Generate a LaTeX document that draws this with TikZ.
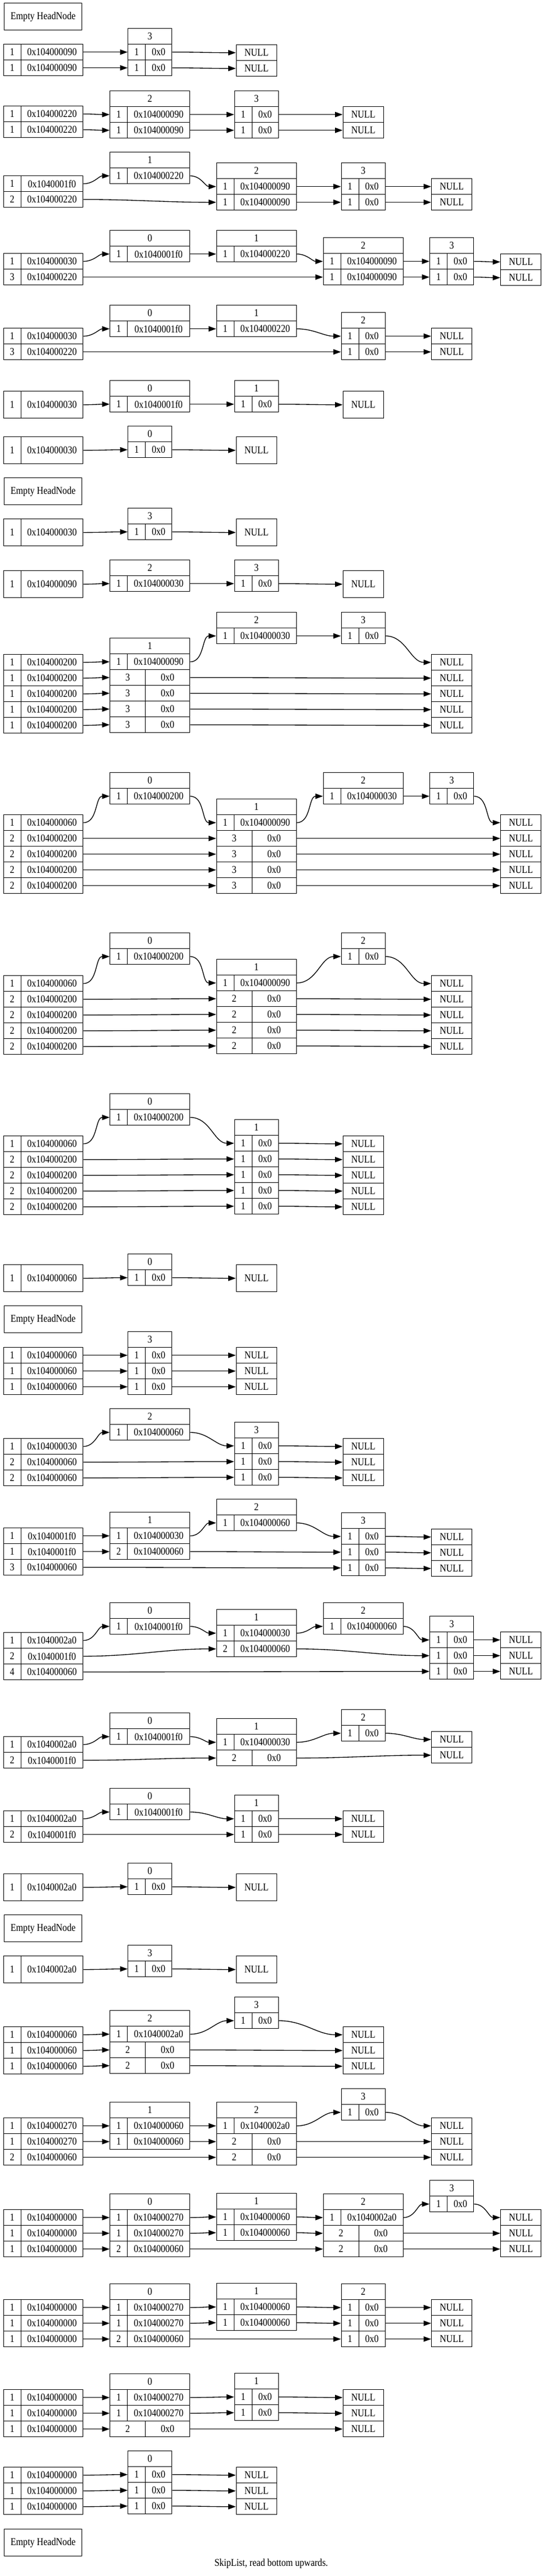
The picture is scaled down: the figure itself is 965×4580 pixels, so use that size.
\documentclass[tikz,border=0pt]{standalone}
\usepackage{fontspec}
\setmainfont{Liberation Serif}[FakeStretch=0.86]
\usepackage{tikz}
\usetikzlibrary{arrows.meta}
\tikzset{
  cell/.style={draw=black, line width=1pt, inner sep=0pt, anchor=north west, font=\fontsize{14}{16}\selectfont},
  link/.style={-{Triangle[length=10pt, width=7pt]}, line width=1pt, color=black},
  caption/.style={font=\fontsize{14}{16}\selectfont},
}
\def\nilad{0x0}
% rows of a record: name, left x, top y, width, row height, lvl/addr list
\newcommand{\fields}[6]{%
  \foreach \lv/\ad [count=\k] in {#6} {
    \edef\adtxt{\ad}
    \def\lw{31}
    \ifx\adtxt\nilad \ifdim #4pt>100pt \def\lw{63}\fi \fi
    \pgfmathsetmacro{\ry}{#3+(\k-1)*#5}
    \node[cell, minimum width=\lw*0.75pt, minimum height=#5*0.75pt] (#1-\k) at (#2,\ry) {\lv};
    \node[cell, minimum width={(#4-\lw)*0.75pt}, minimum height=#5*0.75pt] (#1-\k-a) at (#2+\lw,\ry) {\ad};
  }}
\newcommand{\head}[3]{\fields{#1}{5.5}{#2}{141.5}{28}{#3}}
\newcommand{\headone}[3]{\fields{#1}{5.5}{#2}{141.5}{48}{#3}}
% key nodes: name, rank, top, key, rows
\newcommand{\wide}[5]{%
  \pgfmathsetmacro{\lx}{{76,266,455.5,645.5,803,926}[#2]-71}
  \node[cell, minimum width=106.5pt, minimum height=21pt] (#1) at (\lx,#3) {#4};
  \fields{#1}{\lx}{#3+28}{142}{28}{#5}}
\newcommand{\narrow}[5]{%
  \pgfmathsetmacro{\lx}{{76,266,455.5,645.5,803,926}[#2]-39}
  \node[cell, minimum width=58.5pt, minimum height=21pt] (#1) at (\lx,#3) {#4};
  \fields{#1}{\lx}{#3+28}{78}{28}{#5}}
% NULL column: name, rank, top, count
\newcommand{\nulls}[4]{%
  \pgfmathsetmacro{\lx}{{76,266,455.5,645.5,803,926}[#2]-36}
  \foreach \k in {1,...,#4} {
    \node[cell, minimum width=54pt, minimum height=21pt] (#1-\k) at (\lx,{#3+(\k-1)*28}) {NULL};
  }}
\newcommand{\nullone}[3]{%
  \pgfmathsetmacro{\lx}{{76,266,455.5,645.5,803,926}[#2]-36}
  \node[cell, minimum width=54pt, minimum height=36pt] (#1-1) at (\lx,#3) {NULL};}
\newcommand{\link}[2]{\draw[link] (#1-a.east) to[out=0, in=180] (#2.west);}

\begin{document}
\begin{tikzpicture}[x=0.75pt, y=-0.75pt]
  \fill[white] (0,0) rectangle (965,4580);
  \useasboundingbox (0,0) rectangle (965,4580);

  % 1
  \node[cell, minimum width=103.5pt, minimum height=36pt] (s1) at (7,5) {Empty HeadNode};

  % 2
  \head{s2h}{78}{1/0x104000090, 1/0x104000090}
  \narrow{s2k3}{1}{50}{3}{1/0x0, 1/0x0}
  \nulls{s2z}{2}{79}{2}
  \foreach \i in {1,2} {\link{s2h-\i}{s2k3-\i} \link{s2k3-\i}{s2z-\i}}

  % 3
  \head{s3h}{188}{1/0x104000220, 1/0x104000220}
  \wide{s3k2}{1}{161}{2}{1/0x104000090, 1/0x104000090}
  \narrow{s3k3}{2}{161}{3}{1/0x0, 1/0x0}
  \nulls{s3z}{3}{189}{2}
  \foreach \i in {1,2} {\link{s3h-\i}{s3k2-\i} \link{s3k2-\i}{s3k3-\i} \link{s3k3-\i}{s3z-\i}}

  % 4
  \head{s4h}{312}{1/0x1040001f0, 2/0x104000220}
  \wide{s4k1}{1}{270}{1}{1/0x104000220}
  \wide{s4k2}{2}{289}{2}{1/0x104000090, 1/0x104000090}
  \narrow{s4k3}{3}{289}{3}{1/0x0, 1/0x0}
  \nulls{s4z}{4}{317}{2}
  \link{s4h-1}{s4k1-1} \link{s4k1-1}{s4k2-1} \link{s4h-2}{s4k2-2}
  \foreach \i in {1,2} {\link{s4k2-\i}{s4k3-\i} \link{s4k3-\i}{s4z-\i}}

  % 5
  \head{s5h}{450}{1/0x104000030, 3/0x104000220}
  \wide{s5k0}{1}{409}{0}{1/0x1040001f0}
  \wide{s5k1}{2}{409}{1}{1/0x104000220}
  \wide{s5k2}{3}{422}{2}{1/0x104000090, 1/0x104000090}
  \narrow{s5k3}{4}{422}{3}{1/0x0, 1/0x0}
  \nulls{s5z}{5}{451}{2}
  \link{s5h-1}{s5k0-1} \link{s5k0-1}{s5k1-1} \link{s5k1-1}{s5k2-1} \link{s5h-2}{s5k2-2}
  \foreach \i in {1,2} {\link{s5k2-\i}{s5k3-\i} \link{s5k3-\i}{s5z-\i}}

  % 6
  \head{s6h}{583}{1/0x104000030, 3/0x104000220}
  \wide{s6k0}{1}{542}{0}{1/0x1040001f0}
  \wide{s6k1}{2}{542}{1}{1/0x104000220}
  \narrow{s6k2}{3}{555}{2}{1/0x0, 1/0x0}
  \nulls{s6z}{4}{583}{2}
  \link{s6h-1}{s6k0-1} \link{s6k0-1}{s6k1-1} \link{s6k1-1}{s6k2-1} \link{s6h-2}{s6k2-2}
  \foreach \i in {1,2} {\link{s6k2-\i}{s6z-\i}}

  % 7
  \headone{s7h}{695}{1/0x104000030}
  \wide{s7k0}{1}{676}{0}{1/0x1040001f0}
  \narrow{s7k1}{2}{676}{1}{1/0x0}
  \nullone{s7z}{3}{695}
  \link{s7h-1}{s7k0-1} \link{s7k0-1}{s7k1-1} \link{s7k1-1}{s7z-1}

  % 8
  \headone{s8h}{776}{1/0x104000030}
  \narrow{s8k0}{1}{757}{0}{1/0x0}
  \nullone{s8z}{2}{776}
  \link{s8h-1}{s8k0-1} \link{s8k0-1}{s8z-1}

  % 9
  \node[cell, minimum width=103.5pt, minimum height=36pt] (s9) at (7,849) {Empty HeadNode};

  % 10
  \headone{s10h}{922}{1/0x104000030}
  \narrow{s10k3}{1}{903}{3}{1/0x0}
  \nullone{s10z}{2}{922}
  \link{s10h-1}{s10k3-1} \link{s10k3-1}{s10z-1}

  % 11
  \headone{s11h}{1014}{1/0x104000090}
  \wide{s11k2}{1}{995}{2}{1/0x104000030}
  \narrow{s11k3}{2}{995}{3}{1/0x0}
  \nullone{s11z}{3}{1014}
  \link{s11h-1}{s11k2-1} \link{s11k2-1}{s11k3-1} \link{s11k3-1}{s11z-1}

  % 12
  \head{s12h}{1163}{1/0x104000200, 1/0x104000200, 1/0x104000200, 1/0x104000200, 1/0x104000200}
  \wide{s12k1}{1}{1134}{1}{1/0x104000090, 3/0x0, 3/0x0, 3/0x0, 3/0x0}
  \wide{s12k2}{2}{1088}{2}{1/0x104000030}
  \narrow{s12k3}{3}{1088}{3}{1/0x0}
  \nulls{s12z}{4}{1163}{5}
  \foreach \i in {1,...,5} {\link{s12h-\i}{s12k1-\i}}
  \link{s12k1-1}{s12k2-1} \link{s12k2-1}{s12k3-1} \link{s12k3-1}{s12z-1}
  \foreach \i in {2,...,5} {\link{s12k1-\i}{s12z-\i}}

  % 13
  \head{s13h}{1448}{1/0x104000060, 2/0x104000200, 2/0x104000200, 2/0x104000200, 2/0x104000200}
  \wide{s13k0}{1}{1373}{0}{1/0x104000200}
  \wide{s13k1}{2}{1420}{1}{1/0x104000090, 3/0x0, 3/0x0, 3/0x0, 3/0x0}
  \wide{s13k2}{3}{1373}{2}{1/0x104000030}
  \narrow{s13k3}{4}{1373}{3}{1/0x0}
  \nulls{s13z}{5}{1448}{5}
  \link{s13h-1}{s13k0-1} \link{s13k0-1}{s13k1-1}
  \link{s13k1-1}{s13k2-1} \link{s13k2-1}{s13k3-1} \link{s13k3-1}{s13z-1}
  \foreach \i in {2,...,5} {\link{s13h-\i}{s13k1-\i} \link{s13k1-\i}{s13z-\i}}

  % 14
  \head{s14h}{1734}{1/0x104000060, 2/0x104000200, 2/0x104000200, 2/0x104000200, 2/0x104000200}
  \wide{s14k0}{1}{1658}{0}{1/0x104000200}
  \wide{s14k1}{2}{1705}{1}{1/0x104000090, 2/0x0, 2/0x0, 2/0x0, 2/0x0}
  \narrow{s14k2}{3}{1658}{2}{1/0x0}
  \nulls{s14z}{4}{1734}{5}
  \link{s14h-1}{s14k0-1} \link{s14k0-1}{s14k1-1}
  \link{s14k1-1}{s14k2-1} \link{s14k2-1}{s14z-1}
  \foreach \i in {2,...,5} {\link{s14h-\i}{s14k1-\i} \link{s14k1-\i}{s14z-\i}}

  % 15
  \head{s15h}{2019}{1/0x104000060, 2/0x104000200, 2/0x104000200, 2/0x104000200, 2/0x104000200}
  \wide{s15k0}{1}{1944}{0}{1/0x104000200}
  \narrow{s15k1}{2}{1990}{1}{1/0x0, 1/0x0, 1/0x0, 1/0x0, 1/0x0}
  \nulls{s15z}{3}{2019}{5}
  \link{s15h-1}{s15k0-1} \link{s15k0-1}{s15k1-1}
  \foreach \i in {2,...,5} {\link{s15h-\i}{s15k1-\i}}
  \foreach \i in {1,...,5} {\link{s15k1-\i}{s15z-\i}}

  % 16
  \headone{s16h}{2248}{1/0x104000060}
  \narrow{s16k0}{1}{2229}{0}{1/0x0}
  \nullone{s16z}{2}{2248}
  \link{s16h-1}{s16k0-1} \link{s16k0-1}{s16z-1}

  % 17
  \node[cell, minimum width=103.5pt, minimum height=36pt] (s17) at (7,2321) {Empty HeadNode};

  % 18
  \head{s18h}{2395}{1/0x104000060, 1/0x104000060, 1/0x104000060}
  \narrow{s18k3}{1}{2367}{3}{1/0x0, 1/0x0, 1/0x0}
  \nulls{s18z}{2}{2395}{3}
  \foreach \i in {1,2,3} {\link{s18h-\i}{s18k3-\i} \link{s18k3-\i}{s18z-\i}}

  % 19
  \head{s19h}{2557}{1/0x104000030, 2/0x104000060, 2/0x104000060}
  \wide{s19k2}{1}{2504}{2}{1/0x104000060}
  \narrow{s19k3}{2}{2528}{3}{1/0x0, 1/0x0, 1/0x0}
  \nulls{s19z}{3}{2557}{3}
  \link{s19h-1}{s19k2-1} \link{s19k2-1}{s19k3-1}
  \link{s19h-2}{s19k3-2} \link{s19h-3}{s19k3-3}
  \foreach \i in {1,2,3} {\link{s19k3-\i}{s19z-\i}}

  % 20
  \head{s20h}{2716}{1/0x1040001f0, 1/0x1040001f0, 3/0x104000060}
  \wide{s20k1}{1}{2688}{1}{1/0x104000030, 2/0x104000060}
  \wide{s20k2}{2}{2665}{2}{1/0x104000060}
  \narrow{s20k3}{3}{2689}{3}{1/0x0, 1/0x0, 1/0x0}
  \nulls{s20z}{4}{2718}{3}
  \link{s20h-1}{s20k1-1} \link{s20h-2}{s20k1-2} \link{s20k1-1}{s20k2-1}
  \link{s20k2-1}{s20k3-1} \link{s20k1-2}{s20k3-2} \link{s20h-3}{s20k3-3}
  \foreach \i in {1,2,3} {\link{s20k3-\i}{s20z-\i}}

  % 21
  \head{s21h}{2902}{1/0x1040002a0, 2/0x1040001f0, 4/0x104000060}
  \wide{s21k0}{1}{2849}{0}{1/0x1040001f0}
  \wide{s21k1}{2}{2861}{1}{1/0x104000030, 2/0x104000060}
  \wide{s21k2}{3}{2849}{2}{1/0x104000060}
  \narrow{s21k3}{4}{2873}{3}{1/0x0, 1/0x0, 1/0x0}
  \nulls{s21z}{5}{2901}{3}
  \link{s21h-1}{s21k0-1} \link{s21k0-1}{s21k1-1} \link{s21h-2}{s21k1-2}
  \link{s21k1-1}{s21k2-1} \link{s21k2-1}{s21k3-1} \link{s21k1-2}{s21k3-2}
  \link{s21h-3}{s21k3-3}
  \foreach \i in {1,2,3} {\link{s21k3-\i}{s21z-\i}}

  % 22
  \head{s22h}{3087}{1/0x1040002a0, 2/0x1040001f0}
  \wide{s22k0}{1}{3045}{0}{1/0x1040001f0}
  \wide{s22k1}{2}{3055}{1}{1/0x104000030, 2/0x0}
  \narrow{s22k2}{3}{3039}{2}{1/0x0}
  \nulls{s22z}{4}{3078}{2}
  \link{s22h-1}{s22k0-1} \link{s22k0-1}{s22k1-1} \link{s22h-2}{s22k1-2}
  \link{s22k1-1}{s22k2-1} \link{s22k2-1}{s22z-1} \link{s22k1-2}{s22z-2}

  % 23
  \head{s23h}{3219}{1/0x1040002a0, 2/0x1040001f0}
  \wide{s23k0}{1}{3179}{0}{1/0x1040001f0}
  \narrow{s23k1}{2}{3191}{1}{1/0x0, 1/0x0}
  \nulls{s23z}{3}{3219}{2}
  \link{s23h-1}{s23k0-1} \link{s23k0-1}{s23k1-1} \link{s23h-2}{s23k1-2}
  \foreach \i in {1,2} {\link{s23k1-\i}{s23z-\i}}

  % 24
  \headone{s24h}{3331}{1/0x1040002a0}
  \narrow{s24k0}{1}{3312}{0}{1/0x0}
  \nullone{s24z}{2}{3331}
  \link{s24h-1}{s24k0-1} \link{s24k0-1}{s24z-1}

  % 25
  \node[cell, minimum width=103.5pt, minimum height=36pt] (s25) at (7,3404) {Empty HeadNode};

  % 26
  \headone{s26h}{3477}{1/0x1040002a0}
  \narrow{s26k3}{1}{3458}{3}{1/0x0}
  \nullone{s26z}{2}{3477}
  \link{s26h-1}{s26k3-1} \link{s26k3-1}{s26z-1}

  % 27
  \head{s27h}{3603}{1/0x104000060, 1/0x104000060, 1/0x104000060}
  \wide{s27k2}{1}{3574}{2}{1/0x1040002a0, 2/0x0, 2/0x0}
  \narrow{s27k3}{2}{3550}{3}{1/0x0}
  \nulls{s27z}{3}{3603}{3}
  \foreach \i in {1,2,3} {\link{s27h-\i}{s27k2-\i}}
  \link{s27k2-1}{s27k3-1} \link{s27k3-1}{s27z-1}
  \link{s27k2-2}{s27z-2} \link{s27k2-3}{s27z-3}

  % 28
  \head{s28h}{3765}{1/0x104000270, 1/0x104000270, 2/0x104000060}
  \wide{s28k1}{1}{3737}{1}{1/0x104000060, 1/0x104000060}
  \wide{s28k2}{2}{3737}{2}{1/0x1040002a0, 2/0x0, 2/0x0}
  \narrow{s28k3}{3}{3713}{3}{1/0x0}
  \nulls{s28z}{4}{3765}{3}
  \foreach \i in {1,2} {\link{s28h-\i}{s28k1-\i} \link{s28k1-\i}{s28k2-\i}}
  \link{s28h-3}{s28k2-3} \link{s28k2-1}{s28k3-1} \link{s28k3-1}{s28z-1}
  \link{s28k2-2}{s28z-2} \link{s28k2-3}{s28z-3}

  % 29
  \head{s29h}{3928}{1/0x104000000, 1/0x104000000, 1/0x104000000}
  \wide{s29k0}{1}{3900}{0}{1/0x104000270, 1/0x104000270, 2/0x104000060}
  \wide{s29k1}{2}{3899}{1}{1/0x104000060, 1/0x104000060}
  \wide{s29k2}{3}{3900}{2}{1/0x1040002a0, 2/0x0, 2/0x0}
  \narrow{s29k3}{4}{3876}{3}{1/0x0}
  \nulls{s29z}{5}{3928}{3}
  \foreach \i in {1,2,3} {\link{s29h-\i}{s29k0-\i}}
  \foreach \i in {1,2} {\link{s29k0-\i}{s29k1-\i} \link{s29k1-\i}{s29k2-\i}}
  \link{s29k0-3}{s29k2-3} \link{s29k2-1}{s29k3-1} \link{s29k3-1}{s29z-1}
  \link{s29k2-2}{s29z-2} \link{s29k2-3}{s29z-3}

  % 30
  \head{s30h}{4088}{1/0x104000000, 1/0x104000000, 1/0x104000000}
  \wide{s30k0}{1}{4060}{0}{1/0x104000270, 1/0x104000270, 2/0x104000060}
  \wide{s30k1}{2}{4059}{1}{1/0x104000060, 1/0x104000060}
  \narrow{s30k2}{3}{4060}{2}{1/0x0, 1/0x0, 1/0x0}
  \nulls{s30z}{4}{4088}{3}
  \foreach \i in {1,2,3} {\link{s30h-\i}{s30k0-\i} \link{s30k2-\i}{s30z-\i}}
  \foreach \i in {1,2} {\link{s30k0-\i}{s30k1-\i} \link{s30k1-\i}{s30k2-\i}}
  \link{s30k0-3}{s30k2-3}

  % 31
  \head{s31h}{4248}{1/0x104000000, 1/0x104000000, 1/0x104000000}
  \wide{s31k0}{1}{4220}{0}{1/0x104000270, 1/0x104000270, 2/0x0}
  \narrow{s31k1}{2}{4219}{1}{1/0x0, 1/0x0}
  \nulls{s31z}{3}{4248}{3}
  \foreach \i in {1,2,3} {\link{s31h-\i}{s31k0-\i}}
  \foreach \i in {1,2} {\link{s31k0-\i}{s31k1-\i} \link{s31k1-\i}{s31z-\i}}
  \link{s31k0-3}{s31z-3}

  % 32
  \head{s32h}{4386}{1/0x104000000, 1/0x104000000, 1/0x104000000}
  \narrow{s32k0}{1}{4357}{0}{1/0x0, 1/0x0, 1/0x0}
  \nulls{s32z}{2}{4386}{3}
  \foreach \i in {1,2,3} {\link{s32h-\i}{s32k0-\i} \link{s32k0-\i}{s32z-\i}}

  % 33
  \node[cell, minimum width=103.5pt, minimum height=36pt] (s33) at (7,4496) {Empty HeadNode};

  \node[caption] (title) at (482.5,4558) {SkipList, read bottom upwards.};
\end{tikzpicture}
\end{document}
